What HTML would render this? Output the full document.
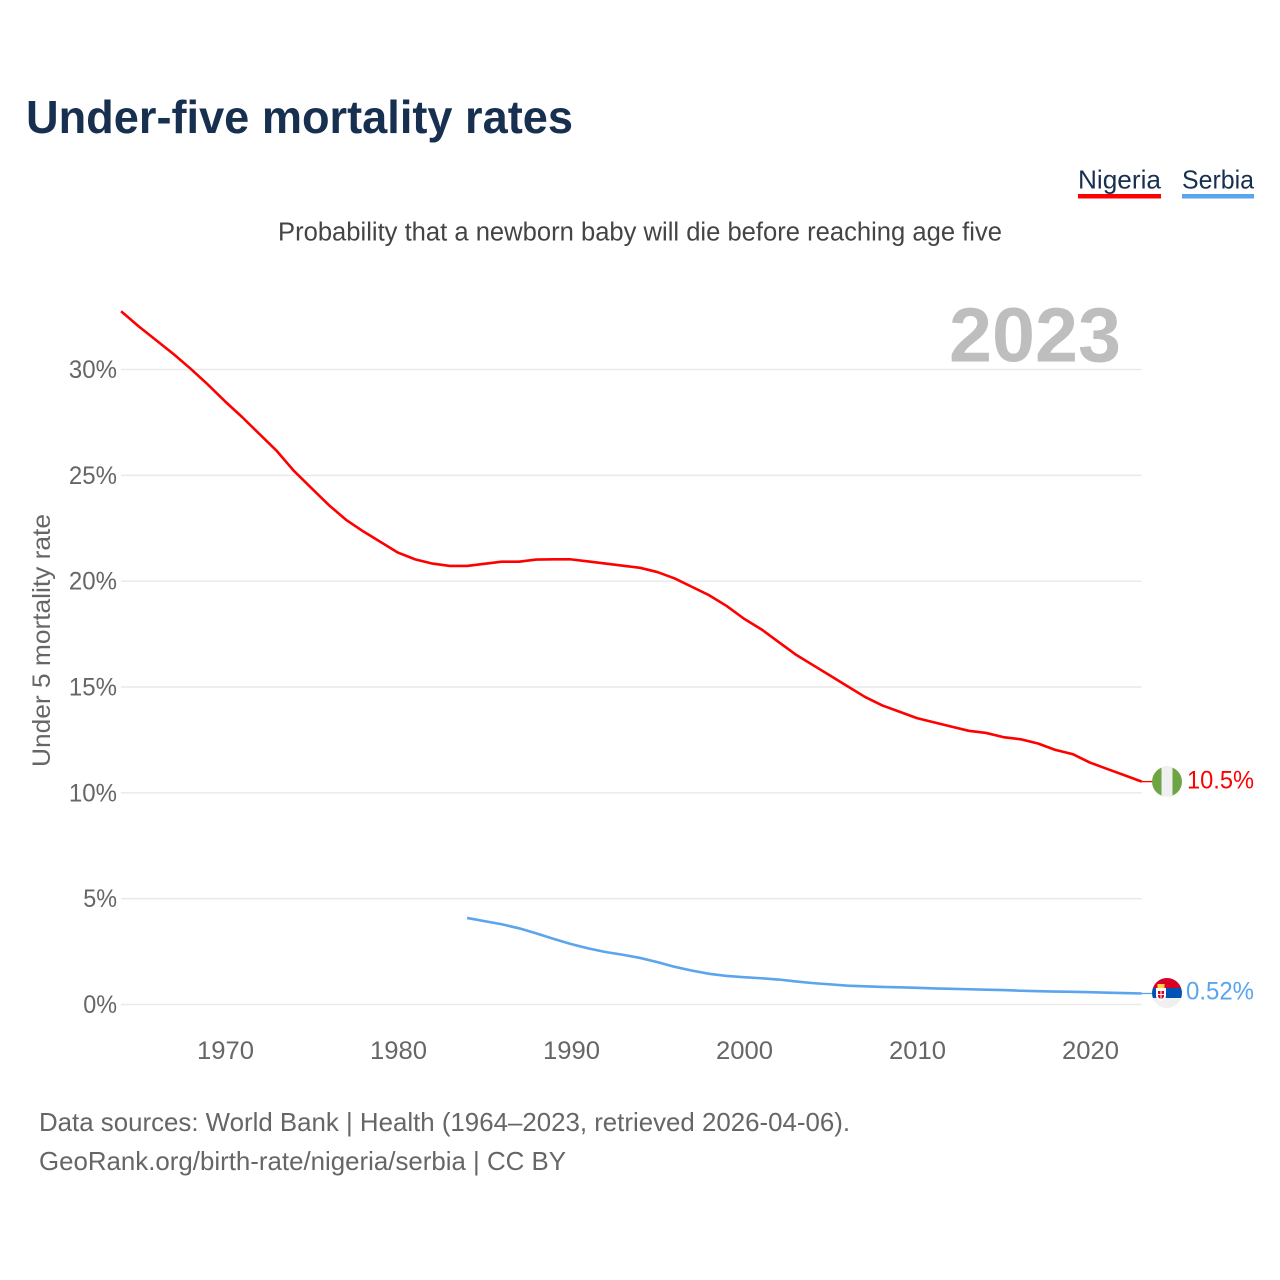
<!DOCTYPE html>
<html lang="en">
<head>
<meta charset="utf-8">
<title>Under-five mortality rates</title>
<style>
html,body{margin:0;padding:0;background:#fff;width:1280px;height:1280px;overflow:hidden}
svg{display:block;font-family:"Liberation Sans",sans-serif}
</style>
</head>
<body>
<svg id="chart" xmlns="http://www.w3.org/2000/svg" width="1280" height="1280" viewBox="0 0 1280 1280">
  <rect x="0" y="0" width="1280" height="1280" fill="#fff"/>
  <text x="26" y="133" font-size="46" font-weight="700" fill="#18304f" textLength="547" lengthAdjust="spacingAndGlyphs">Under-five mortality rates</text>
  <g>
    <text x="1078" y="188.5" font-size="26" fill="#18304f" textLength="83" lengthAdjust="spacingAndGlyphs">Nigeria</text>
    <rect x="1078" y="194" width="83" height="4.5" fill="#ff0000"/>
  </g>
  <g>
    <text x="1182" y="188.5" font-size="26" fill="#18304f" textLength="72" lengthAdjust="spacingAndGlyphs">Serbia</text>
    <rect x="1182" y="194" width="72" height="4.5" fill="#5ba4ee"/>
  </g>
  <text x="278" y="240.5" font-size="25.5" fill="#444" textLength="724" lengthAdjust="spacingAndGlyphs">Probability that a newborn baby will die before reaching age five</text>
  <text transform="translate(50,767) rotate(-90)" x="0" y="0" font-size="25" fill="#666" textLength="253" lengthAdjust="spacingAndGlyphs">Under 5 mortality rate</text>
  <g id="grid"></g>
  <text x="949" y="361.5" font-size="77" font-weight="700" fill="#bebebe" textLength="172" lengthAdjust="spacingAndGlyphs">2023</text>
  <g id="yticks"></g>
  <g id="xticks"></g>
  <g id="series"></g>
  <g id="flag-nigeria">
    <clipPath id="clip-ng"><circle cx="0" cy="0" r="15"/></clipPath>
    <g clip-path="url(#clip-ng)">
      <rect x="-15" y="-15" width="30" height="30" fill="#6da544"/>
      <rect x="-5.5" y="-15" width="11" height="30" fill="#f0f0f0"/>
    </g>
  </g>
  <g id="flag-serbia">
    <clipPath id="clip-rs"><circle cx="0" cy="0" r="15"/></clipPath>
    <g clip-path="url(#clip-rs)">
      <rect x="-15" y="5" width="30" height="10" fill="#f0f0f0"/>
      <rect x="-15" y="-5" width="30" height="10" fill="#0052b4"/>
      <rect x="-15" y="-15" width="30" height="10" fill="#d80027"/>
      <rect x="-9.5" y="-9" width="7" height="4" fill="#ffda44"/>
      <path d="M-11 -5 H-1 V3 Q-1 6.5 -6 8 Q-11 6.5 -11 3 Z" fill="#fff"/>
      <path d="M-9 -2 H-3 V3 Q-3 5 -6 6 Q-9 5 -9 3 Z" fill="#d80027"/>
      <rect x="-6.5" y="-2" width="1" height="8" fill="#fff"/>
      <rect x="-9" y="1" width="6" height="1" fill="#fff"/>
    </g>
  </g>
  <g id="endlabels"></g>
  <text x="39" y="1131" font-size="26" fill="#666" textLength="811" lengthAdjust="spacingAndGlyphs">Data sources: World Bank | Health (1964–2023, retrieved 2026-04-06).</text>
  <text x="39" y="1170" font-size="26" fill="#666" textLength="527" lengthAdjust="spacingAndGlyphs">GeoRank.org/birth-rate/nigeria/serbia | CC BY</text>
</svg>
<script>
const yTickValues = [0, 5, 10, 15, 20, 25, 30];
const xTickYears = [1970, 1980, 1990, 2000, 2010, 2020];
const nigeriaStartYear = 1964;
const nigeriaValues = [32.75,32.05,31.4,30.75,30.05,29.3,28.5,27.75,26.95,26.15,25.2,24.4,23.6,22.9,22.35,21.85,21.35,21.03,20.83,20.72,20.72,20.82,20.92,20.92,21.02,21.03,21.03,20.93,20.83,20.73,20.63,20.43,20.13,19.73,19.33,18.83,18.23,17.73,17.13,16.53,16.03,15.53,15.03,14.53,14.13,13.83,13.53,13.33,13.13,12.93,12.83,12.63,12.53,12.33,12.03,11.83,11.43,11.13,10.83,10.53];
const serbiaStartYear = 1984;
const serbiaValues = [4.09,3.94,3.79,3.6,3.36,3.1,2.86,2.65,2.48,2.35,2.2,2.0,1.78,1.6,1.45,1.35,1.29,1.24,1.18,1.09,1.01,0.95,0.89,0.86,0.83,0.81,0.79,0.76,0.74,0.72,0.7,0.68,0.65,0.63,0.61,0.6,0.58,0.56,0.54,0.52];
const nigeriaLabel = '10.5%';
const serbiaLabel = '0.52%';

const NS = 'http://www.w3.org/2000/svg';
function xScale(year){ return 224.9 + (year - 1970) * 17.3; }
function yScale(v){ return 1004.5 - v * 21.167; }
function make(tag, parent, attrs, text){
  const el = document.createElementNS(NS, tag);
  for (const k in attrs) el.setAttribute(k, attrs[k]);
  if (text !== undefined) el.textContent = text;
  parent.appendChild(el);
  return el;
}
const lastYear = nigeriaStartYear + nigeriaValues.length - 1;
const plotRight = xScale(lastYear);
const gridG = document.getElementById('grid');
const yG = document.getElementById('yticks');
yTickValues.forEach(function(v){
  const line = make('line', gridG, {x1: 121, x2: plotRight, y1: yScale(v), y2: yScale(v), stroke: '#e9e9e9', 'stroke-width': 1.5});
  
  
  const label = v + '%';
  const w = (label.length - 1) * 14.3 + 19.5;
  const t = make('text', yG, {x: 117 - w, y: yScale(v) + 8.5, 'font-size': 25, fill: '#666', textLength: w, lengthAdjust: 'spacingAndGlyphs'}, label);
  
  
});
const xG = document.getElementById('xticks');
xTickYears.forEach(function(yr){
  const t = make('text', xG, {x: xScale(yr) - 27.9, y: 1059, 'font-size': 25, fill: '#666', textLength: 57, lengthAdjust: 'spacingAndGlyphs'}, String(yr));
  
  
});
function linePath(start, values){
  return values.map(function(v, i){
    return (i ? 'L' : 'M') + xScale(start + i).toFixed(2) + ' ' + yScale(v).toFixed(2);
  }).join(' ');
}
const sG = document.getElementById('series');
const nigeriaLine = make('path', sG, {d: linePath(nigeriaStartYear, nigeriaValues), fill: 'none', stroke: '#ff0000', 'stroke-width': 2.6, 'stroke-linejoin': 'round'});


const serbiaLine = make('path', sG, {d: linePath(serbiaStartYear, serbiaValues), fill: 'none', stroke: '#5ba4ee', 'stroke-width': 2.6, 'stroke-linejoin': 'round'});



const nEnd = yScale(nigeriaValues[nigeriaValues.length - 1]);
const sEnd = yScale(serbiaValues[serbiaValues.length - 1]);
const nLead = make('line', sG, {x1: plotRight, x2: 1152, y1: nEnd, y2: nEnd, stroke: '#ff0000', 'stroke-width': 1.3});


const sLead = make('line', sG, {x1: plotRight, x2: 1152, y1: sEnd, y2: sEnd, stroke: '#5ba4ee', 'stroke-width': 1.3});


document.getElementById('flag-nigeria').setAttribute('transform', 'translate(1167,' + nEnd + ')');
document.getElementById('flag-serbia').setAttribute('transform', 'translate(1167,' + (sEnd - 0.5) + ')');

const eG = document.getElementById('endlabels');
const nText = make('text', eG, {x: 1187, y: nEnd + 7, 'font-size': 25, fill: '#ff0000', textLength: 67, lengthAdjust: 'spacingAndGlyphs'}, nigeriaLabel);


const sText = make('text', eG, {x: 1186, y: sEnd + 6, 'font-size': 25, fill: '#5ba4ee', textLength: 68, lengthAdjust: 'spacingAndGlyphs'}, serbiaLabel);


</script>
</body>
</html>
